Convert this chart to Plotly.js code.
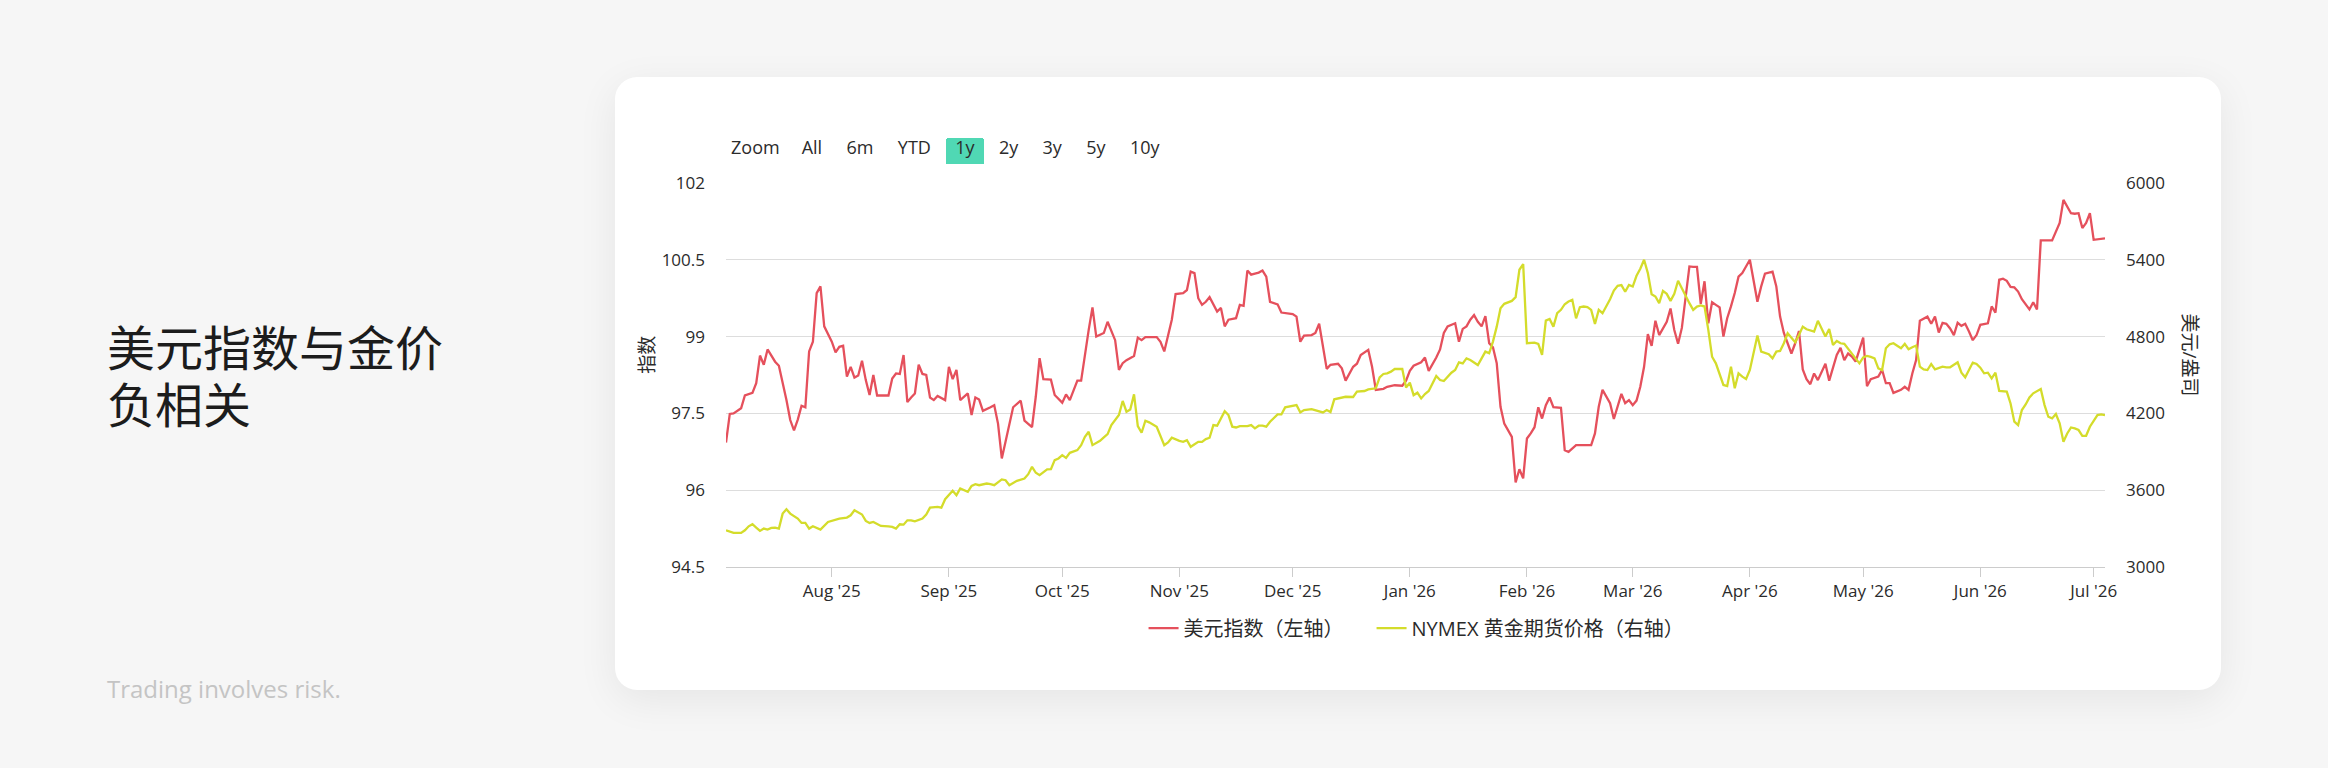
<!DOCTYPE html>
<html>
<head>
<meta charset="utf-8">
<script src="https://cdn.plot.ly/plotly-3.0.1.min.js"></script>
<style>
  @font-face {
    font-family: 'TitleCJK';
    src: local('Noto Sans CJK SC'), local('Noto Sans CJK SC Regular'), local('NotoSansCJKsc-Regular'), local('Noto Sans CJK JP'), local('Noto Sans CJK JP Regular'), local('NotoSansCJKjp-Regular');
    ascent-override: 88%;
    descent-override: 12%;
    line-gap-override: 0%;
  }
  html, body { margin: 0; padding: 0; }
  body { width: 2328px; height: 768px; background: #f6f6f6; position: relative; overflow: hidden; }
  .tline { position: absolute; left: 107px; font-family: 'TitleCJK', "Noto Sans CJK SC", sans-serif; font-size: 48px; line-height: 57px; height: 57px; color: #1c1c1c; font-weight: 400; white-space: nowrap; }
  #t1 { top: 320px; }
  #t2 { top: 377px; }
  #note { position: absolute; left: 107px; top: 675px; font-family: "Open Sans", "Lato", sans-serif; font-size: 24px; line-height: 28px; color: #c4c4c4; white-space: nowrap; }
  #card { position: absolute; left: 615px; top: 77px; width: 1606px; height: 613px; background: #ffffff; border-radius: 22px; box-shadow: 0 10px 40px rgba(0,0,0,0.07); }
  #chart { position: absolute; left: 0; top: 0; width: 1606px; height: 613px; }
</style>
</head>
<body>
<div id="t1" class="tline">美元指数与金价</div>
<div id="t2" class="tline">负相关</div>
<div id="note">Trading involves risk.</div>
<div id="card"><div id="chart"></div></div>
<script>
// ---- Data ----
const usdName = '美元指数（左轴）';
const goldName = 'NYMEX 黄金期货价格（右轴）';
const leftAxisTitle = '指数';
const rightAxisTitle = '美元/盎司';
const selectorLabels = ['All', '6m', 'YTD', '1y', '2y', '3y', '5y', '10y'];

const usdDates = [
 '2025-07-04','2025-07-05','2025-07-06','2025-07-07','2025-07-08','2025-07-09','2025-07-11','2025-07-12','2025-07-13','2025-07-14','2025-07-15','2025-07-17','2025-07-18','2025-07-20','2025-07-21','2025-07-22','2025-07-23','2025-07-24','2025-07-25','2025-07-26','2025-07-27','2025-07-28','2025-07-29','2025-07-30',
 '2025-08-01','2025-08-02','2025-08-03','2025-08-04','2025-08-05','2025-08-06','2025-08-07','2025-08-08','2025-08-09','2025-08-10','2025-08-11','2025-08-12','2025-08-13','2025-08-16','2025-08-17','2025-08-18','2025-08-19','2025-08-20','2025-08-21','2025-08-22','2025-08-23','2025-08-24','2025-08-25','2025-08-26','2025-08-27','2025-08-28','2025-08-29','2025-08-31',
 '2025-09-01','2025-09-02','2025-09-03','2025-09-04','2025-09-06','2025-09-07','2025-09-08','2025-09-09','2025-09-10','2025-09-12','2025-09-13','2025-09-14','2025-09-15','2025-09-16','2025-09-17','2025-09-18','2025-09-20','2025-09-21','2025-09-23','2025-09-24','2025-09-25','2025-09-26','2025-09-28','2025-09-29',
 '2025-10-01','2025-10-02','2025-10-03','2025-10-05','2025-10-06','2025-10-07','2025-10-08','2025-10-09','2025-10-10','2025-10-12','2025-10-13','2025-10-15','2025-10-16','2025-10-17','2025-10-18','2025-10-20','2025-10-21','2025-10-22','2025-10-23','2025-10-26','2025-10-27','2025-10-28','2025-10-30','2025-10-31',
 '2025-11-02','2025-11-03','2025-11-04','2025-11-05','2025-11-06','2025-11-07','2025-11-08','2025-11-09','2025-11-10','2025-11-11','2025-11-12','2025-11-13','2025-11-14','2025-11-15','2025-11-16','2025-11-17','2025-11-18','2025-11-19','2025-11-20','2025-11-21','2025-11-22','2025-11-23','2025-11-24','2025-11-25','2025-11-27','2025-11-28','2025-11-29',
 '2025-12-01','2025-12-02','2025-12-03','2025-12-04','2025-12-06','2025-12-07','2025-12-08','2025-12-10','2025-12-11','2025-12-13','2025-12-14','2025-12-15','2025-12-17','2025-12-18','2025-12-19','2025-12-21','2025-12-22','2025-12-23','2025-12-25','2025-12-26','2025-12-28','2025-12-30','2025-12-31',
 '2026-01-01','2026-01-02','2026-01-04','2026-01-05','2026-01-06','2026-01-08','2026-01-09','2026-01-10','2026-01-11','2026-01-13','2026-01-14','2026-01-15','2026-01-16','2026-01-17','2026-01-18','2026-01-19','2026-01-20','2026-01-21','2026-01-22','2026-01-23','2026-01-24','2026-01-25','2026-01-26','2026-01-28','2026-01-29','2026-01-30','2026-01-31',
 '2026-02-01','2026-02-02','2026-02-03','2026-02-04','2026-02-05','2026-02-06','2026-02-07','2026-02-08','2026-02-10','2026-02-11','2026-02-12','2026-02-14','2026-02-15','2026-02-18','2026-02-19','2026-02-20','2026-02-21','2026-02-23','2026-02-24','2026-02-25','2026-02-26','2026-02-27','2026-02-28',
 '2026-03-01','2026-03-02','2026-03-03','2026-03-04','2026-03-05','2026-03-06','2026-03-07','2026-03-08','2026-03-10','2026-03-11','2026-03-12','2026-03-13','2026-03-14','2026-03-15','2026-03-16','2026-03-17','2026-03-18','2026-03-19','2026-03-20','2026-03-21','2026-03-22','2026-03-23','2026-03-24','2026-03-25','2026-03-26','2026-03-27','2026-03-28','2026-03-29','2026-03-30',
 '2026-04-01','2026-04-02','2026-04-03','2026-04-04','2026-04-05','2026-04-07','2026-04-08','2026-04-09','2026-04-10','2026-04-11','2026-04-12','2026-04-13','2026-04-14','2026-04-15','2026-04-16','2026-04-17','2026-04-18','2026-04-19','2026-04-20','2026-04-21','2026-04-22','2026-04-23','2026-04-24','2026-04-25','2026-04-26','2026-04-27','2026-04-28','2026-04-29','2026-04-30',
 '2026-05-01','2026-05-02','2026-05-03','2026-05-05','2026-05-06','2026-05-07','2026-05-08','2026-05-09','2026-05-11','2026-05-12','2026-05-13','2026-05-14','2026-05-15','2026-05-16','2026-05-18','2026-05-19','2026-05-20','2026-05-21','2026-05-22','2026-05-23','2026-05-24','2026-05-25','2026-05-26','2026-05-27','2026-05-28','2026-05-29','2026-05-30','2026-05-31',
 '2026-06-01','2026-06-03','2026-06-04','2026-06-05','2026-06-06','2026-06-07','2026-06-08','2026-06-09','2026-06-10','2026-06-11','2026-06-12','2026-06-14','2026-06-15','2026-06-16','2026-06-17','2026-06-19','2026-06-20','2026-06-22','2026-06-23','2026-06-25','2026-06-26','2026-06-27','2026-06-28','2026-06-29','2026-06-30',
 '2026-07-01','2026-07-02','2026-07-04'
];
const usdValues = [
 96.93,97.49,97.50,97.55,97.60,97.85,97.90,98.09,98.63,98.45,98.75,98.51,98.43,97.76,97.37,97.17,97.38,97.65,97.62,98.71,98.90,99.85,99.98,99.20,
 98.90,98.69,98.80,98.82,98.22,98.41,98.20,98.24,98.53,98.15,97.86,98.25,97.85,97.85,98.18,98.28,98.27,98.64,97.72,97.81,97.89,98.45,98.27,98.25,97.81,97.76,97.84,97.76,
 98.41,98.17,98.35,97.76,97.89,97.47,97.81,97.77,97.55,97.62,97.66,97.30,96.62,96.95,97.30,97.62,97.75,97.36,97.23,97.83,98.58,98.17,98.16,97.86,
 97.71,97.87,97.76,98.14,98.14,98.66,99.13,99.57,99.00,99.07,99.29,98.93,98.35,98.48,98.54,98.62,98.98,98.93,98.99,98.99,98.90,98.71,99.33,99.83,
 99.85,99.91,100.27,100.24,99.75,99.62,99.68,99.77,99.62,99.49,99.56,99.20,99.33,99.35,99.36,99.62,99.60,100.29,100.21,100.23,100.25,100.29,100.17,99.68,99.63,99.47,99.46,
 99.44,99.39,98.90,99.02,99.03,99.07,99.25,98.37,98.45,98.47,98.38,98.14,98.41,98.47,98.64,98.74,98.41,97.96,97.98,98.02,98.05,98.04,98.14,
 98.33,98.43,98.50,98.59,98.33,98.59,98.75,99.07,99.20,99.26,98.90,99.15,99.20,99.33,99.42,99.29,99.20,99.40,98.87,98.79,98.48,97.63,97.30,97.04,96.15,96.41,96.23,
 97.01,97.11,97.23,97.62,97.40,97.66,97.81,97.62,97.61,96.78,96.75,96.88,96.88,96.88,97.11,97.63,97.96,97.70,97.39,97.65,97.88,97.70,97.76,
 97.66,97.75,98.02,98.41,99.05,98.82,99.31,99.03,99.29,99.55,99.13,98.86,99.17,99.75,100.37,100.36,100.36,99.64,100.08,99.26,99.67,99.62,99.57,99.00,99.36,99.59,99.85,100.17,100.24,
 100.50,100.08,99.68,99.98,100.23,100.27,99.98,99.39,99.07,98.87,98.67,98.87,99.11,98.36,98.17,98.07,98.28,98.15,98.32,98.47,98.14,98.41,98.64,98.78,98.54,98.67,98.61,98.51,98.74,
 98.98,98.03,98.17,98.22,98.35,98.09,98.09,97.90,97.96,98.02,97.96,98.28,98.54,99.31,99.39,99.25,99.39,99.08,99.27,99.25,99.16,99.03,99.27,99.21,99.25,99.10,98.93,99.03,
 99.23,99.26,99.59,99.47,100.11,100.13,100.09,99.97,99.96,99.88,99.73,99.53,99.67,99.53,100.88,100.88,100.88,101.22,101.67,101.41,101.40,101.41,101.12,101.22,101.41,
 100.89,100.90,100.92
];

const goldDates = [
 '2025-07-04','2025-07-05','2025-07-06','2025-07-08','2025-07-09','2025-07-10','2025-07-11','2025-07-12','2025-07-13','2025-07-14','2025-07-15','2025-07-16','2025-07-17','2025-07-18','2025-07-19','2025-07-20','2025-07-21','2025-07-23','2025-07-24','2025-07-25','2025-07-26','2025-07-27','2025-07-28','2025-07-29','2025-07-31',
 '2025-08-01','2025-08-03','2025-08-05','2025-08-06','2025-08-07','2025-08-08','2025-08-09','2025-08-10','2025-08-11','2025-08-12','2025-08-13','2025-08-14','2025-08-16','2025-08-17','2025-08-18','2025-08-19','2025-08-20','2025-08-21','2025-08-22','2025-08-23','2025-08-25','2025-08-26','2025-08-27','2025-08-29','2025-08-30','2025-08-31',
 '2025-09-02','2025-09-03','2025-09-04','2025-09-06','2025-09-07','2025-09-08','2025-09-09','2025-09-11','2025-09-12','2025-09-13','2025-09-15','2025-09-16','2025-09-17','2025-09-18','2025-09-19','2025-09-21','2025-09-22','2025-09-23','2025-09-24','2025-09-25','2025-09-26','2025-09-27','2025-09-28','2025-09-29','2025-09-30',
 '2025-10-01','2025-10-02','2025-10-03','2025-10-05','2025-10-06','2025-10-07','2025-10-08','2025-10-09','2025-10-11','2025-10-12','2025-10-13','2025-10-14','2025-10-15','2025-10-16','2025-10-17','2025-10-18','2025-10-19','2025-10-20','2025-10-21','2025-10-22','2025-10-23','2025-10-24','2025-10-26','2025-10-27','2025-10-28','2025-10-29','2025-10-30',
 '2025-11-01','2025-11-02','2025-11-03','2025-11-04','2025-11-06','2025-11-07','2025-11-08','2025-11-09','2025-11-10','2025-11-11','2025-11-13','2025-11-14','2025-11-15','2025-11-16','2025-11-17','2025-11-19','2025-11-20','2025-11-21','2025-11-22','2025-11-23','2025-11-24','2025-11-25','2025-11-27','2025-11-28','2025-11-29','2025-11-30',
 '2025-12-02','2025-12-03','2025-12-04','2025-12-06','2025-12-07','2025-12-09','2025-12-10','2025-12-11','2025-12-12','2025-12-14','2025-12-15','2025-12-17','2025-12-18','2025-12-20','2025-12-21','2025-12-23','2025-12-24','2025-12-25','2025-12-26','2025-12-27','2025-12-28','2025-12-30','2025-12-31',
 '2026-01-01','2026-01-02','2026-01-03','2026-01-04','2026-01-05','2026-01-06','2026-01-08','2026-01-09','2026-01-10','2026-01-11','2026-01-12','2026-01-13','2026-01-14','2026-01-15','2026-01-16','2026-01-17','2026-01-19','2026-01-20','2026-01-21','2026-01-22','2026-01-23','2026-01-24','2026-01-25','2026-01-26','2026-01-28','2026-01-29','2026-01-30','2026-01-31',
 '2026-02-01','2026-02-03','2026-02-04','2026-02-05','2026-02-06','2026-02-07','2026-02-08','2026-02-09','2026-02-10','2026-02-11','2026-02-12','2026-02-13','2026-02-14','2026-02-15','2026-02-16','2026-02-17','2026-02-18','2026-02-19','2026-02-20','2026-02-21','2026-02-23','2026-02-24','2026-02-25','2026-02-26','2026-02-27','2026-02-28',
 '2026-03-01','2026-03-02','2026-03-03','2026-03-04','2026-03-05','2026-03-06','2026-03-07','2026-03-08','2026-03-09','2026-03-10','2026-03-11','2026-03-12','2026-03-13','2026-03-14','2026-03-15','2026-03-16','2026-03-17','2026-03-18','2026-03-19','2026-03-20','2026-03-21','2026-03-22','2026-03-23','2026-03-24','2026-03-25','2026-03-26','2026-03-27','2026-03-28','2026-03-29','2026-03-30','2026-03-31',
 '2026-04-01','2026-04-02','2026-04-03','2026-04-04','2026-04-05','2026-04-06','2026-04-07','2026-04-08','2026-04-09','2026-04-10','2026-04-11','2026-04-12','2026-04-13','2026-04-14','2026-04-15','2026-04-16','2026-04-18','2026-04-19','2026-04-20','2026-04-21','2026-04-22','2026-04-23','2026-04-24','2026-04-25','2026-04-26','2026-04-27','2026-04-28','2026-04-29','2026-04-30',
 '2026-05-01','2026-05-02','2026-05-03','2026-05-04','2026-05-05','2026-05-06','2026-05-07','2026-05-08','2026-05-09','2026-05-10','2026-05-11','2026-05-12','2026-05-13','2026-05-14','2026-05-15','2026-05-16','2026-05-17','2026-05-18','2026-05-19','2026-05-20','2026-05-21','2026-05-22','2026-05-23','2026-05-24','2026-05-26','2026-05-27','2026-05-28','2026-05-29','2026-05-30','2026-05-31',
 '2026-06-01','2026-06-02','2026-06-03','2026-06-04','2026-06-05','2026-06-06','2026-06-07','2026-06-08','2026-06-09','2026-06-10','2026-06-11','2026-06-12','2026-06-13','2026-06-14','2026-06-15','2026-06-17','2026-06-18','2026-06-19','2026-06-20','2026-06-21','2026-06-22','2026-06-23','2026-06-24','2026-06-25','2026-06-26','2026-06-27','2026-06-28','2026-06-29','2026-06-30',
 '2026-07-02','2026-07-03','2026-07-04'
];
const goldValues = [
 3287,3279,3266,3266,3287,3318,3334,3308,3282,3300,3292,3305,3308,3300,3417,3451,3417,3378,3344,3344,3300,3318,3305,3292,3352,
 3360,3378,3386,3404,3443,3425,3410,3360,3344,3352,3334,3321,3318,3313,3300,3334,3331,3365,3365,3357,3378,3410,3464,3470,3464,3530,
 3595,3561,3613,3587,3634,3647,3639,3652,3647,3639,3684,3678,3639,3657,3673,3691,3725,3783,3736,3717,3743,3762,3764,3835,3848,
 3874,3853,3892,3913,3952,4017,4057,3952,3986,4012,4038,4109,4148,4187,4297,4213,4231,4349,4101,4049,4143,4130,4096,4017,3952,3973,4010,
 3986,3978,3991,3939,3978,3978,3999,4010,4109,4104,4218,4187,4096,4090,4101,4101,4109,4083,4104,4104,4096,4135,4192,4192,4247,4252,
 4265,4208,4226,4234,4226,4208,4226,4210,4310,4323,4330,4328,4370,4375,4388,4396,4482,4508,4513,4526,4547,4547,4403,
 4440,4343,4362,4317,4351,4375,4492,4461,4453,4487,4518,4539,4599,4591,4630,4617,4578,4630,4683,4670,4761,4878,5022,5056,5079,5108,5322,5366,
 4748,4753,4743,4657,4925,4938,4878,4983,5009,5053,5074,5087,4943,5030,5035,5030,5009,4899,5009,4983,5092,5160,5197,5202,5150,5204,
 5191,5275,5330,5400,5296,5131,5113,5061,5157,5134,5079,5134,5236,5178,5113,5061,5009,5035,5043,5035,4852,4643,4591,4513,4422,4414,4565,4396,4513,4487,4469,
 4539,4683,4808,4683,4675,4662,4630,4683,4688,4748,4826,4792,4756,4813,4878,4857,4839,4923,4857,4800,4860,4735,4766,4748,4743,4703,4670,4630,4591,
 4638,4649,4641,4630,4552,4539,4709,4740,4748,4727,4709,4743,4701,4717,4730,4565,4544,4539,4586,4544,4557,4565,4560,4560,4599,4518,4482,4539,4597,4586,
 4557,4513,4518,4474,4518,4375,4370,4370,4278,4135,4109,4226,4270,4325,4357,4390,4265,4174,4161,4195,4122,3978,4043,4090,4083,4070,4025,4025,4096,
 4187,4192,4187
];

const xRange = ['2025-07-04', '2026-07-04'];
const usdRange = [94.5, 102];
const goldRange = [3000, 6000];

// ---- Chart ----
const FONT = '"Open Sans", "Noto Sans CJK SC", sans-serif';
const TXT = '#2b2b2b';
const NB = '\u00a0';

const traces = [
  { type: 'scatter', mode: 'lines', name: usdName, x: usdDates, y: usdValues, yaxis: 'y',
    legendwidth: 183, line: { color: '#e5505c', width: 2.3 }, hoverinfo: 'x+y' },
  { type: 'scatter', mode: 'lines', name: goldName, x: goldDates, y: goldValues, yaxis: 'y2',
    line: { color: '#d4dc2b', width: 2.3 }, hoverinfo: 'x+y' }
];

const steps = [
  { step: 'all' },
  { count: 6, step: 'month', stepmode: 'backward' },
  { count: 1, step: 'year', stepmode: 'todate' },
  { count: 1, step: 'year', stepmode: 'backward' },
  { count: 2, step: 'year', stepmode: 'backward' },
  { count: 3, step: 'year', stepmode: 'backward' },
  { count: 5, step: 'year', stepmode: 'backward' },
  { count: 10, step: 'year', stepmode: 'backward' }
];
const buttons = steps.map((s, i) => Object.assign({ label: NB + selectorLabels[i] + NB }, s));

const layout = {
  width: 1606, height: 613,
  margin: { l: 111, r: 116, t: 106, b: 123 },
  paper_bgcolor: 'rgba(0,0,0,0)',
  plot_bgcolor: 'rgba(0,0,0,0)',
  font: { family: FONT, size: 17, color: TXT },
  showlegend: true,
  legend: {
    orientation: 'h', x: 0.3028, xanchor: 'left', y: -0.159, yanchor: 'middle',
    font: { family: FONT, size: 20, color: TXT }, itemwidth: 30, bgcolor: 'rgba(0,0,0,0)'
  },
  xaxis: {
    type: 'date', range: xRange, dtick: 'M1', tickformat: "%b '%y",
    showgrid: false, showline: true, linecolor: '#cccccc', linewidth: 1,
    ticks: 'outside', ticklen: 9, tickwidth: 1, tickcolor: '#cccccc',
    tickfont: { family: FONT, size: 17, color: TXT },
    rangeselector: {
      buttons: buttons,
      x: 0.0479, xanchor: 'left', y: 1.0486, yanchor: 'bottom',
      bgcolor: 'rgba(0,0,0,0)', activecolor: '#50d8b4',
      borderwidth: 0,
      font: { family: FONT, size: 18, color: TXT }
    }
  },
  yaxis: {
    range: usdRange, tick0: 94.5, dtick: 1.5,
    showgrid: true, gridcolor: '#dddddd', gridwidth: 1, zeroline: false,
    showline: false, ticks: '', ticklabelstandoff: 20,
    tickfont: { family: FONT, size: 17, color: TXT }
  },
  yaxis2: {
    range: goldRange, tick0: 3000, dtick: 600, overlaying: 'y', side: 'right',
    showgrid: false, zeroline: false, showline: false, ticks: '', ticklabelstandoff: 20,
    tickfont: { family: FONT, size: 17, color: TXT }
  },
  annotations: [
    { text: 'Zoom', xref: 'paper', yref: 'paper', x: 0.0022, y: 1.0947, xanchor: 'left', yanchor: 'middle',
      showarrow: false, font: { family: FONT, size: 18, color: TXT } },
    { text: leftAxisTitle, xref: 'paper', yref: 'paper', x: -0.0575, y: 0.552, xanchor: 'center', yanchor: 'middle',
      textangle: -90, showarrow: false, font: { family: FONT, size: 19, color: TXT } },
    { text: rightAxisTitle, xref: 'paper', yref: 'paper', x: 1.0613, y: 0.552, xanchor: 'center', yanchor: 'middle',
      textangle: 90, showarrow: false, font: { family: FONT, size: 19, color: TXT } }
  ]
};

Plotly.newPlot('chart', traces, layout, { displayModeBar: false, responsive: false });
</script>
</body>
</html>
